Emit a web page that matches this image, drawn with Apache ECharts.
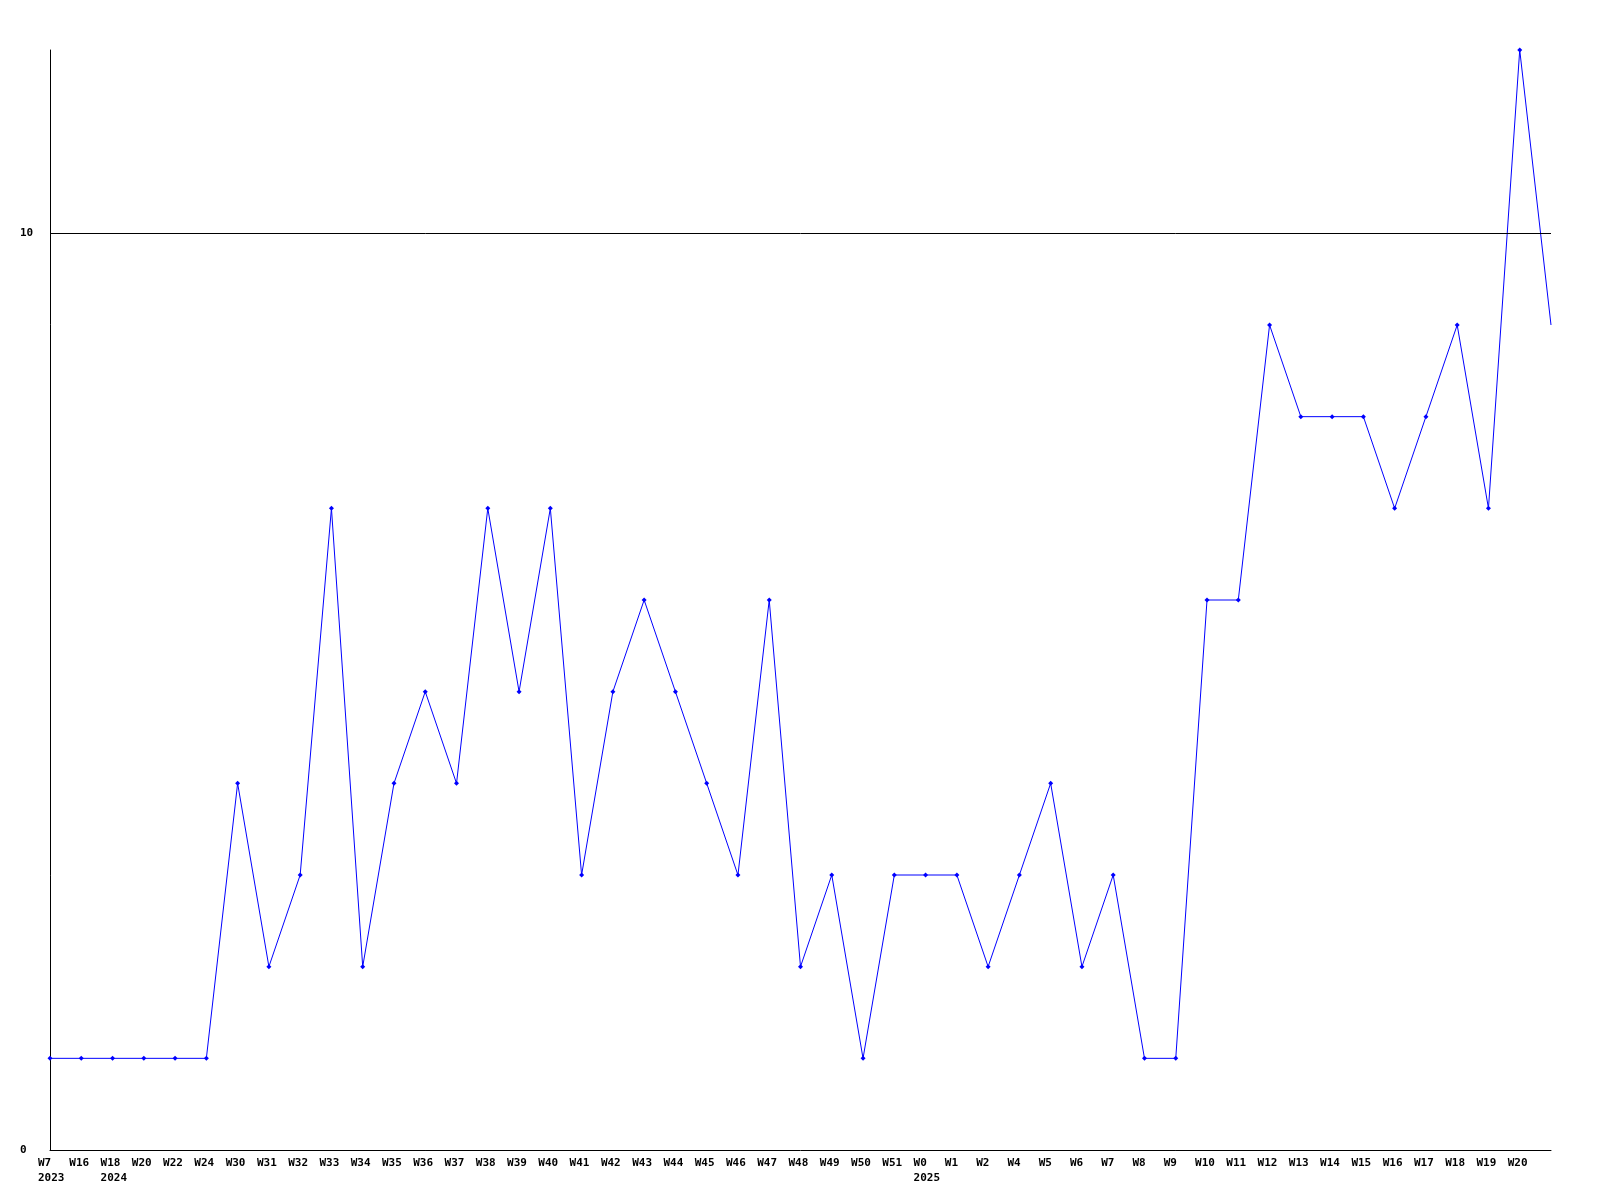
<!DOCTYPE html>
<html>
<head>
<meta charset="utf-8">
<script src="https://cdn.jsdelivr.net/npm/echarts@6/dist/echarts.min.js"></script>
<style>html,body{margin:0;padding:0;background:#fff}#c{width:1600px;height:1200px}</style>
</head>
<body>
<div id="c"></div>
<script>
const categories = ["W7","W16","W18","W20","W22","W24","W30","W31","W32","W33","W34","W35","W36","W37","W38","W39","W40","W41","W42","W43","W44","W45","W46","W47","W48","W49","W50","W51","W0","W1","W2","W4","W5","W6","W7","W8","W9","W10","W11","W12","W13","W14","W15","W16","W17","W18","W19","W20","W21"];
const yearLabels = {0:"2023", 2:"2024", 28:"2025"};
const values = [1,1,1,1,1,1,4,2,3,7,2,4,5,4,7,5,7,3,5,6,5,4,3,6,2,3,1,3,3,3,2,3,4,2,3,1,1,6,6,9,8,8,8,7,8,9,7,12,9];
const yTicks = {min:0, max:12, interval:10};
const refLine = 10;

const chart = echarts.init(document.getElementById('c'));
const font = {fontFamily:'DejaVu Sans Mono', fontWeight:'bold', fontSize:11, color:'#000'};
const lastIdx = values.length - 1;
chart.setOption({
  animation:false,
  backgroundColor:'#fff',
  grid:{left:50, right:49, top:50, bottom:50},
  xAxis:{
    type:'category', data:categories, boundaryGap:false,
    axisLine:{lineStyle:{color:'#000', width:1}},
    axisTick:{show:false},
    axisLabel:Object.assign({}, font, {
      interval:0, margin:6, lineHeight:15, align:'left', padding:[0,0,0,-12],
      formatter:(v, i) => i === categories.length-1 ? '' : (yearLabels[i] ? v + '\n' + yearLabels[i] : v)
    }),
    splitLine:{show:false}
  },
  yAxis:{
    type:'value', min:yTicks.min, max:yTicks.max, interval:yTicks.interval,
    axisLine:{show:true, lineStyle:{color:'#000', width:1}},
    axisTick:{show:false},
    axisLabel:Object.assign({}, font, {align:'left', margin:30, showMaxLabel:false}),
    splitLine:{show:false}
  },
  series:[{
    type:'line',
    data:values.map((v, i) => i === lastIdx ? {value:v, symbol:'none'} : v),
    symbol:'diamond', symbolSize:5, showSymbol:true,
    lineStyle:{color:'#0000ff', width:1},
    itemStyle:{color:'#0000ff'},
    markLine:{
      silent:true, symbol:['none','none'], label:{show:false},
      lineStyle:{color:'#000', width:1, type:'solid'},
      data:[{yAxis:refLine}]
    }
  }]
});
</script>
</body>
</html>
